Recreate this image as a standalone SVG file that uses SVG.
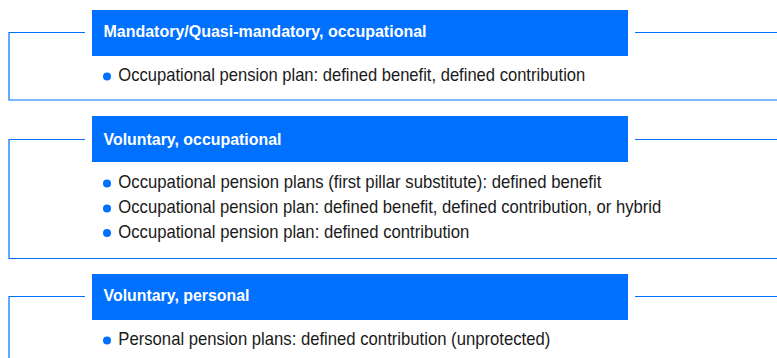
<svg xmlns="http://www.w3.org/2000/svg" width="777" height="358" viewBox="0 0 777 358">
<style>
.box{fill:#0070ff}
.ln{fill:none;stroke:#0070ff;stroke-width:1.2}
.hd{font-family:"Liberation Sans",Arial,sans-serif;font-weight:bold;font-size:17px;fill:#ffffff}
.tx{font-family:"Liberation Sans",Arial,sans-serif;font-size:18.5px;fill:#1a1a1a}
.bl{fill:#0070ff}
</style>
<rect width="777" height="358" fill="#ffffff"/>
<g id="connectors">
<polyline class="ln" points="85,32.5 9,32.5 9,100 777,100"/>
<line class="ln" x1="635" y1="32.5" x2="777" y2="32.5"/>
<polyline class="ln" points="85,139.5 9,139.5 9,258.5 777,258.5"/>
<line class="ln" x1="635" y1="139.5" x2="777" y2="139.5"/>
<polyline class="ln" points="85,296.5 9,296.5 9,358"/>
<line class="ln" x1="635" y1="296.5" x2="777" y2="296.5"/>
</g>
<g id="group1">
<rect class="box" x="92" y="10" width="536" height="46"/>
<text class="hd" x="103.5" y="37.3" textLength="323" lengthAdjust="spacingAndGlyphs">Mandatory/Quasi-mandatory, occupational</text>
<circle class="bl" cx="107" cy="76.5" r="4"/>
<text class="tx" x="118.3" y="80.7" textLength="467" lengthAdjust="spacingAndGlyphs">Occupational pension plan: defined benefit, defined contribution</text>
</g>
<g id="group2">
<rect class="box" x="92" y="116" width="536" height="46"/>
<text class="hd" x="103.5" y="145" textLength="178" lengthAdjust="spacingAndGlyphs">Voluntary, occupational</text>
<circle class="bl" cx="107" cy="183.5" r="4"/>
<text class="tx" x="118.3" y="188.3" textLength="483" lengthAdjust="spacingAndGlyphs">Occupational pension plans (first pillar substitute): defined benefit</text>
<circle class="bl" cx="107" cy="208.5" r="4"/>
<text class="tx" x="118.3" y="213" textLength="543" lengthAdjust="spacingAndGlyphs">Occupational pension plan: defined benefit, defined contribution, or hybrid</text>
<circle class="bl" cx="107" cy="233" r="4"/>
<text class="tx" x="118.3" y="237.6" textLength="351" lengthAdjust="spacingAndGlyphs">Occupational pension plan: defined contribution</text>
</g>
<g id="group3">
<rect class="box" x="92" y="274" width="536" height="46"/>
<text class="hd" x="103.5" y="301" textLength="146" lengthAdjust="spacingAndGlyphs">Voluntary, personal</text>
<circle class="bl" cx="107" cy="340.5" r="4"/>
<text class="tx" x="118.3" y="345" textLength="432" lengthAdjust="spacingAndGlyphs">Personal pension plans: defined contribution (unprotected)</text>
</g>
</svg>
